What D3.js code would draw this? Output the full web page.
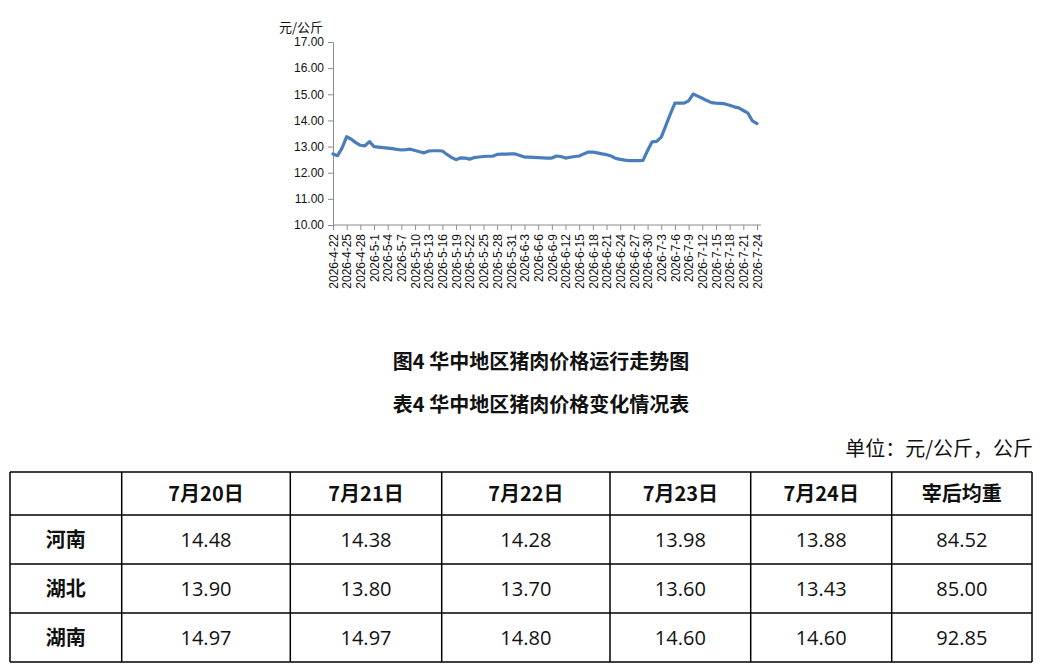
<!DOCTYPE html>
<html><head><meta charset="utf-8">
<script src="https://cdn.jsdelivr.net/npm/d3@7"></script>
<style>
html,body{margin:0;padding:0;background:#fff;}
svg{display:block;}
</style></head>
<body>
<svg id="c" width="1045" height="669"></svg>
<script>
// ---- chart data (daily, 2026-4-22 .. 2026-7-24) ----
const startDate = "2026-04-22";
const prices = [
 12.72,12.65,12.95,13.38,13.28,13.15,13.05,13.03,13.19,13.00,
 12.98,12.96,12.94,12.92,12.89,12.87,12.88,12.90,12.85,12.80,
 12.76,12.83,12.84,12.84,12.83,12.70,12.58,12.50,12.57,12.56,
 12.52,12.58,12.60,12.62,12.63,12.63,12.70,12.71,12.71,12.72,
 12.72,12.66,12.60,12.60,12.59,12.58,12.57,12.56,12.56,12.64,
 12.62,12.56,12.59,12.62,12.64,12.72,12.79,12.79,12.76,12.72,
 12.69,12.64,12.55,12.51,12.48,12.46,12.46,12.46,12.47,12.85,
 13.18,13.20,13.36,13.80,14.25,14.66,14.66,14.66,14.75,15.01,
 14.93,14.85,14.76,14.68,14.66,14.65,14.63,14.58,14.52,14.48,
 14.38,14.28,13.98,13.88
];
const yTicks = [10,11,12,13,14,15,16,17];
const yUnit = "元/公斤";
const tickEvery = 3;

// ---- table data ----
const chartTitle = "图4 华中地区猪肉价格运行走势图";
const tableTitle = "表4 华中地区猪肉价格变化情况表";
const unitText = "单位：元/公斤，公斤";
const tableHeader = ["", "7月20日", "7月21日", "7月22日", "7月23日", "7月24日", "宰后均重"];
const regions = ["河南", "湖北", "湖南"];
const henan = ["14.48","14.38","14.28","13.98","13.88","84.52"];
const hubei = ["13.90","13.80","13.70","13.60","13.43","85.00"];
const hunan = ["14.97","14.97","14.80","14.60","14.60","92.85"];
const tableRows = [henan, hubei, hunan];

const svg = d3.select("#c");
const parse = d3.timeParse("%Y-%m-%d");
const d0 = parse(startDate);
const dates = prices.map((p,i)=>d3.timeDay.offset(d0,i));
const fmt = d => `${d.getFullYear()}-${d.getMonth()+1}-${d.getDate()}`;

const x = d3.scaleLinear().domain([0, prices.length-1]).range([333, 757]);
const y = d3.scaleLinear().domain([10,17]).range([225, 42]);

const axisColor = "#8c8c8c";
const tickFont = "'Liberation Sans', Arial, sans-serif";

// y axis
const gy = svg.append("g").attr("transform","translate(333,0)")
  .call(d3.axisLeft(y).tickValues(yTicks).tickFormat(d3.format(".2f")).tickSize(5).tickPadding(4));
gy.select(".domain").attr("stroke",axisColor);
gy.selectAll(".tick line").attr("stroke",axisColor);
gy.selectAll(".tick text").attr("fill","#111").style("font-family",tickFont).style("font-size","12px");

// x axis
const tickIdx = d3.range(0, prices.length, tickEvery);
const gx = svg.append("g").attr("transform","translate(0,225)")
  .call(d3.axisBottom(x).tickValues(tickIdx).tickFormat(i=>fmt(dates[i])).tickSize(5).tickSizeOuter(0));
gx.select(".domain").attr("stroke",axisColor).attr("d", `M333,0H761`);
gx.selectAll(".tick line").attr("stroke",axisColor);
gx.selectAll(".tick text")
  .attr("fill","#111").style("font-family",tickFont).style("font-size","12px")
  .attr("transform","rotate(-90)").attr("text-anchor","end")
  .attr("x",-9).attr("y",0).attr("dy","0.35em");

// unit label
svg.append("text").attr("x",279).attr("y",32).text(yUnit)
  .style("font-family","'Noto Sans CJK SC', sans-serif").style("font-size","13px").attr("fill","#111");

// line
svg.append("path").datum(prices)
  .attr("d", d3.line().x((d,i)=>x(i)).y(d=>y(d)))
  .attr("fill","none").attr("stroke","#4a7ebb").attr("stroke-width",3.2)
  .attr("stroke-linejoin","round").attr("stroke-linecap","round");

// titles
const cjk = "'Noto Sans CJK SC', sans-serif";
svg.append("text").attr("x",541).attr("y",369).attr("text-anchor","middle").text(chartTitle)
  .style("font-family",cjk).style("font-weight","bold").style("font-size","20px").attr("fill","#111");
svg.append("text").attr("x",541).attr("y",412).attr("text-anchor","middle").text(tableTitle)
  .style("font-family",cjk).style("font-weight","bold").style("font-size","20px").attr("fill","#111");
svg.append("text").attr("x",1033).attr("y",456).attr("text-anchor","end").text(unitText)
  .style("font-family",cjk).style("font-size","20px").attr("fill","#111");

// table
const colEdges = [10, 121.7, 290.3, 441.7, 610, 750.7, 891.7, 1032];
const rowEdges = [472, 515, 564, 613, 662];
const tx = d3.scaleOrdinal().domain(d3.range(7)).range(d3.range(7).map(i=>(colEdges[i]+colEdges[i+1])/2));
const tg = svg.append("g");
tg.selectAll("line.h").data(rowEdges).join("line")
  .attr("x1",colEdges[0]).attr("x2",colEdges[7]).attr("y1",d=>d).attr("y2",d=>d)
  .attr("stroke","#000").attr("stroke-width",1.5);
tg.selectAll("line.v").data(colEdges).join("line").attr("class","v")
  .attr("y1",rowEdges[0]).attr("y2",rowEdges[4]).attr("x1",d=>d).attr("x2",d=>d)
  .attr("stroke","#000").attr("stroke-width",1.5);
tg.selectAll("text.hd").data(tableHeader).join("text").attr("class","hd")
  .attr("x",(d,i)=>tx(i)).attr("y",(rowEdges[0]+rowEdges[1])/2).attr("dy","0.36em")
  .attr("text-anchor","middle").text(d=>d)
  .style("font-family",cjk).style("font-weight","bold").style("font-size","20px").attr("fill","#111");
regions.forEach((r,ri)=>{
  const cy = (rowEdges[ri+1]+rowEdges[ri+2])/2;
  tg.append("text").attr("x",tx(0)).attr("y",cy).attr("dy","0.36em").attr("text-anchor","middle").text(r)
    .style("font-family",cjk).style("font-weight","bold").style("font-size","20px").attr("fill","#111");
  tg.selectAll(null).data(tableRows[ri]).join("text")
    .attr("x",(d,i)=>tx(i+1)).attr("y",cy).attr("dy","0.36em").attr("text-anchor","middle").text(d=>d)
    .style("font-family","'Open Sans', sans-serif").style("font-size","20px").attr("fill","#111");
});
</script>
</body></html>
